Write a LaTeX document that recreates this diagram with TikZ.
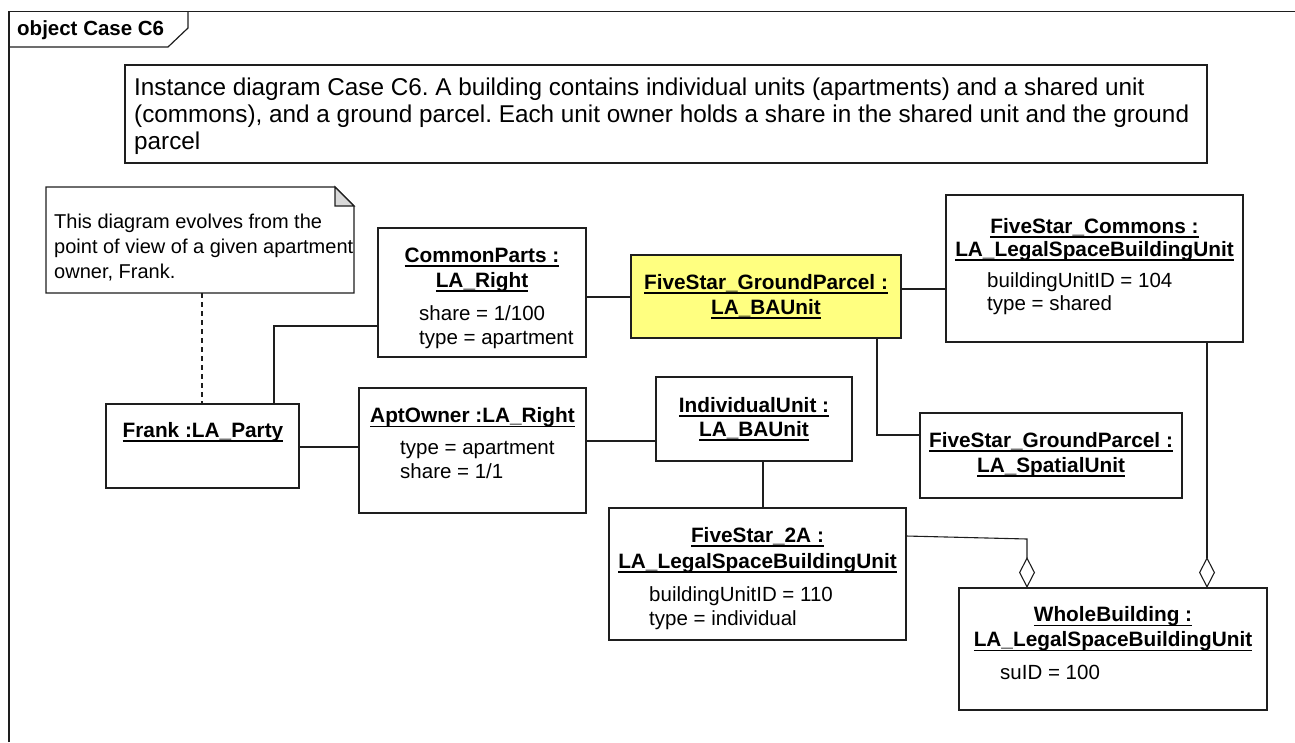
\documentclass[tikz,border=0pt]{standalone}
\usepackage{fontspec}
\setmainfont{Liberation Sans}
\usetikzlibrary{arrows.meta}
\definecolor{ylw}{RGB}{255,255,128}
\definecolor{foldgray}{RGB}{217,217,217}
\definecolor{ink}{RGB}{30,30,30}
\newcommand\ulx[1]{\setbox0\hbox{#1}\rlap{\rule[-4.6pt]{\wd0}{1.2pt}}\box0}
\frenchspacing
\tikzset{
  box/.style={draw=ink, line width=1.2pt, fill=white, inner sep=0pt, outer sep=0pt},
  conn/.style={draw=ink, line width=1.1pt},
  ttl/.style={anchor=base, inner sep=0pt, font=\fontsize{20.8}{25}\selectfont\bfseries},
  attr/.style={anchor=base west, inner sep=0pt, font=\fontsize{20.5}{25}\selectfont},
  notetxt/.style={anchor=base west, inner sep=0pt, font=\fontsize{20}{25}\selectfont},
  insttxt/.style={anchor=base west, inner sep=0pt, font=\fontsize{24.3}{27}\selectfont},
  agg/.style={conn, -{Diamond[open, length=31pt, width=16pt, line width=1.1pt]}},
}
\begin{document}
\begin{tikzpicture}[x=1pt, y=-1pt]
\useasboundingbox (0,0) rectangle (1295,742);
% frame
\draw[ink, line width=1.2pt] (9,742) -- (9,11.5) -- (1295,11.5);
\draw[ink, line width=1.2pt] (9,47) -- (168,47) -- (188,28) -- (188,11.5);
\node[anchor=base west, inner sep=0pt, font=\fontsize{20.5}{24}\selectfont\bfseries] (frameT) at (17,35) {object Case C6};

% instance text box
\node[box, minimum width=1082pt, minimum height=98pt] (inst) at (666,114) {};
\node[insttxt] (inst1) at (134,95) {Instance diagram Case C6. A building contains individual units (apartments) and a shared unit};
\node[insttxt] (inst2) at (134,122) {(commons), and a ground parcel. Each unit owner holds a share in the shared unit and the ground};
\node[insttxt] (inst3) at (134,149) {parcel};

% note
\draw[ink, line width=1.2pt, fill=white] (46,187) -- (335,187) -- (354,206) -- (354,293) -- (46,293) -- cycle;
\draw[ink, line width=1.2pt, fill=foldgray] (335,187) -- (335,206) -- (354,206) -- cycle;
\coordinate (noteB) at (202,293);
\node[notetxt] (note1) at (54,228) {This diagram evolves from the};
\node[notetxt] (note2) at (54,253) {point of view of a given apartment};
\node[notetxt] (note3) at (54,278) {owner, Frank.};

% object boxes
\node[box, minimum width=193pt, minimum height=84pt] (frank) at (202.5,446) {};
\node[box, minimum width=208pt, minimum height=129pt] (cp) at (482,292.5) {};
\node[box, minimum width=227pt, minimum height=125pt] (apt) at (472.5,450.5) {};
\node[box, fill=ylw, minimum width=270pt, minimum height=83pt] (gp) at (766,296.5) {};
\node[box, minimum width=196pt, minimum height=84pt] (iu) at (754,419) {};
\node[box, minimum width=297pt, minimum height=147pt] (cm) at (1094.5,268.5) {};
\node[box, minimum width=262pt, minimum height=85pt] (su) at (1051,455.5) {};
\node[box, minimum width=297pt, minimum height=132pt] (fa) at (757.5,574) {};
\node[box, minimum width=308pt, minimum height=122pt] (wb) at (1113,649) {};

% texts
\node[ttl] (frankT) at (203,437) {\ulx{Frank :LA\_Party}};

\node[ttl] (cpT1) at (482,262) {\ulx{CommonParts :}};
\node[ttl] (cpT2) at (482,287) {\ulx{LA\_Right}};
\node[attr] (cpA1) at (419,320) {share = 1/100};
\node[attr] (cpA2) at (419,344) {type = apartment};

\node[ttl] (aptT) at (472.5,422.5) {\ulx{AptOwner :LA\_Right}};
\node[attr] (aptA1) at (400,454) {type = apartment};
\node[attr] (aptA2) at (400,478) {share = 1/1};

\node[ttl] (gpT1) at (766,289) {\ulx{FiveStar\_GroundParcel :}};
\node[ttl] (gpT2) at (766,314) {\ulx{LA\_BAUnit}};

\node[ttl] (iuT1) at (754,412) {\ulx{IndividualUnit :}};
\node[ttl] (iuT2) at (754,436) {\ulx{LA\_BAUnit}};

\node[ttl] (cmT1) at (1094.5,233) {\ulx{FiveStar\_Commons :}};
\node[ttl] (cmT2) at (1094.5,256) {\ulx{LA\_LegalSpaceBuildingUnit}};
\node[attr] (cmA1) at (987,287) {buildingUnitID = 104};
\node[attr] (cmA2) at (987,310) {type = shared};

\node[ttl] (suT1) at (1051,447) {\ulx{FiveStar\_GroundParcel :}};
\node[ttl] (suT2) at (1051,472) {\ulx{LA\_SpatialUnit}};

\node[ttl] (faT1) at (757.5,542) {\ulx{FiveStar\_2A :}};
\node[ttl] (faT2) at (757.5,568) {\ulx{LA\_LegalSpaceBuildingUnit}};
\node[attr] (faA1) at (649,601) {buildingUnitID = 110};
\node[attr] (faA2) at (649,625) {type = individual};

\node[ttl] (wbT1) at (1113,621.5) {\ulx{WholeBuilding :}};
\node[ttl] (wbT2) at (1113,646.5) {\ulx{LA\_LegalSpaceBuildingUnit}};
\node[attr] (wbA1) at (1000,679) {suID = 100};

% connectors
\draw[conn, dash pattern=on 5pt off 4pt] (noteB) -- (frank.north -| noteB);
\draw[conn] (274,0 |- frank.north) -- (274,326) -- (cp.west |- 0,326);
\draw[conn] (frank.east |- 0,447) -- (apt.west |- 0,447);
\draw[conn] (cp.east |- 0,297) -- (gp.west |- 0,297);
\draw[conn] (gp.east |- 0,289) -- (cm.west |- 0,289);
\draw[conn] (877,0 |- gp.south) -- (877,435) -- (su.west |- 0,435);
\draw[conn] (apt.east |- 0,441) -- (iu.west |- 0,441);
\draw[conn] (763,0 |- iu.south) -- (763,0 |- fa.north);
\draw[agg] (fa.east |- 0,536) -- (1027,539) -- (1027,0 |- wb.north);
\draw[agg] (1207,0 |- cm.south) -- (1207,0 |- wb.north);
\end{tikzpicture}
\end{document}
